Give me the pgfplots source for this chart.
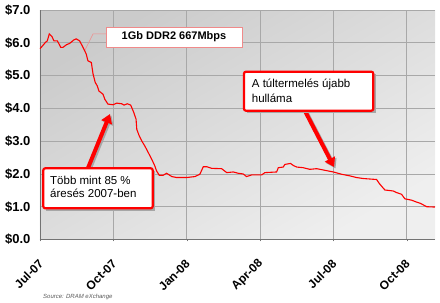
\documentclass[border=0pt]{standalone}
\usepackage{pgfplots}
\pgfplotsset{compat=1.18}
\usepackage{fontspec}
\setmainfont{Liberation Sans}
\usetikzlibrary{arrows.meta}
\definecolor{gridc}{HTML}{A8A8A8}
\definecolor{pinkc}{HTML}{F08A8A}
\definecolor{bgdark}{HTML}{CBCBCB}
\definecolor{bglight}{HTML}{EFEFEF}
\begin{document}
\begin{tikzpicture}
\path[use as bounding box] (0pt,0pt) rectangle (440pt,303pt);
\begin{axis}[
  at={(40pt,63.5pt)}, anchor=south west,
  scale only axis, width=395pt, height=229.5pt,
  xmin=0, xmax=16.16, ymin=0, ymax=7,
  axis background/.style={left color=bgdark, right color=bglight, shading angle=30},
  grid=major, major grid style={gridc, line width=0.6pt},
  separate axis lines,
  axis x line*=bottom, axis y line*=left,
  axis line style={draw=black!55, line width=0.8pt, -},
  xtick={0,3,6,9,12,15},
  xticklabels={Jul-07,Oct-07,Jan-08,Apr-08,Jul-08,Oct-08},
  ytick={0,1,2,3,4,5,6,7},
  yticklabels={\$0.0,\$1.0,\$2.0,\$3.0,\$4.0,\$5.0,\$6.0,\$7.0},
  xticklabel style={rotate=45, anchor=east, font=\fontsize{12}{14}\selectfont\bfseries, xshift=-10pt, yshift=-15pt},
  yticklabel style={font=\fontsize{13}{15}\selectfont\bfseries, xshift=-4pt},
  tick align=outside, major tick length=2pt,
  xtick style={draw=black!55},
  ytick style={draw=none},
  /pgf/number format/assume math mode=true,
  clip=false,
]
\addplot[red, line width=1.1pt, no marks] coordinates {
(0,5.82) (0.05,5.86) (0.22,6.01) (0.30,6.06) (0.38,6.27) (0.49,6.19) (0.57,6.06)
(0.71,6.06) (0.85,5.86) (0.94,5.86) (1.08,5.94) (1.21,5.98) (1.39,6.09) (1.48,6.12)
(1.62,6.06) (1.76,5.86) (1.89,5.66) (1.96,5.45) (2.10,5.40) (2.17,5.05) (2.26,4.79)
(2.34,4.69) (2.41,4.53) (2.58,4.43) (2.65,4.28) (2.78,4.13) (2.99,4.11) (3.14,4.16)
(3.34,4.14) (3.44,4.10) (3.57,4.14) (3.71,4.10) (3.84,3.87) (3.93,3.67) (3.96,3.36)
(4.06,3.16) (4.16,3.01) (4.29,2.85) (4.43,2.65) (4.57,2.45) (4.70,2.24) (4.77,2.09)
(4.88,1.96) (5.04,1.96) (5.18,2.02) (5.39,1.92) (5.59,1.89) (6.00,1.89) (6.34,1.92)
(6.54,1.99) (6.68,2.22) (6.82,2.22) (7.02,2.17) (7.43,2.16) (7.64,2.04) (7.91,2.06)
(8.11,2.02) (8.31,2.00) (8.45,1.92) (8.66,1.97) (9.07,1.97) (9.20,2.04) (9.68,2.06)
(9.75,2.19) (9.95,2.21) (10.02,2.29) (10.25,2.32) (10.36,2.26) (10.50,2.21) (10.77,2.19)
(11.04,2.14) (11.32,2.16) (11.66,2.11) (12.00,2.06) (12.34,1.99) (12.68,1.94) (12.95,1.89)
(13.22,1.86) (13.77,1.83) (13.88,1.71) (13.97,1.63) (14.11,1.51) (14.45,1.48) (14.59,1.43)
(14.79,1.38) (14.93,1.24) (15.20,1.20) (15.41,1.14) (15.57,1.10) (15.82,1.00) (16.16,0.99)
};
\end{axis}
% leader for series label
\draw[pinkc, line width=0.5pt] (106pt,269pt) -- (93pt,269pt) -- (85pt,253pt);
\node[draw=pinkc, fill=white, line width=0.7pt, minimum width=136pt, minimum height=20pt, inner sep=0pt,
      font=\fontsize{11}{12}\selectfont\bfseries] at (174pt,266pt) {1Gb DDR2 667Mbps};
% arrows
\draw[black!35, line width=4pt, -{Triangle[length=9pt,width=11pt]}] (89.5pt,133.5pt) -- (111.5pt,187.5pt);
\draw[red, line width=4pt, -{Triangle[length=9pt,width=11pt]}] (88pt,135pt) -- (110pt,189pt);
\draw[black!35, line width=4pt, -{Triangle[length=9pt,width=11pt]}] (306.5pt,190.5pt) -- (335.5pt,134.5pt);
\draw[red, line width=4pt, -{Triangle[length=9pt,width=11pt]}] (305pt,192pt) -- (334pt,136pt);
% callout 2
\fill[black!35] (45.8pt,92.2pt) rectangle (155.2pt,132.2pt);
\draw[red, line width=2.2pt, fill=white, rounded corners=2pt] (43.3pt,94.7pt) rectangle (152.7pt,134.7pt);
\node[anchor=west, inner sep=0pt, font=\fontsize{11.5}{13}\selectfont] at (50pt,122.3pt) {Több mint 85 \%};
\node[anchor=west, inner sep=0pt, font=\fontsize{11.5}{13}\selectfont] at (50pt,109.7pt) {áresés 2007-ben};
% callout 3
\fill[black!35] (246.5pt,189.8pt) rectangle (375.8pt,228.8pt);
\draw[red, line width=2.2pt, fill=white, rounded corners=2pt] (244pt,192.3pt) rectangle (373.3pt,231.3pt);
\node[anchor=west, inner sep=0pt, font=\fontsize{11.5}{13}\selectfont] at (251.7pt,219pt) {A túltermelés újabb};
\node[anchor=west, inner sep=0pt, font=\fontsize{11.5}{13}\selectfont] at (251.7pt,204.7pt) {hulláma};
% source
\node[anchor=west, inner sep=0pt, text=black!65, font=\fontsize{6}{7}\selectfont\itshape] at (43pt,6pt) {Source: DRAM eXchange};
\end{tikzpicture}
\end{document}
